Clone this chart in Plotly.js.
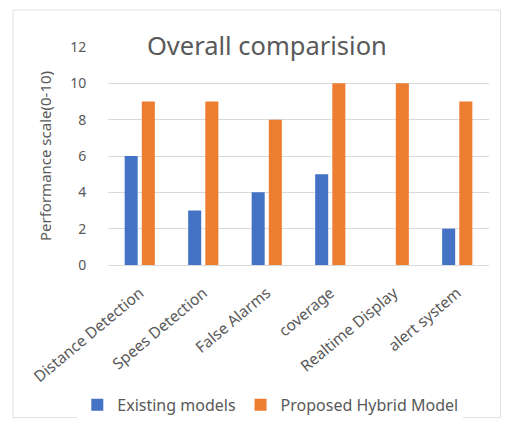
<!DOCTYPE html>
<html><head><meta charset="utf-8">
<script src="https://cdn.plot.ly/plotly-3.0.1.min.js"></script>
<style>html,body{margin:0;padding:0;background:#fff;}</style>
</head><body>
<div id="chart" style="width:510px;height:428px;"></div>
<script>
const categories = ["Distance Detection","Spees Detection","False Alarms","coverage","Realtime Display","alert system"];
const existingModels = [6, 3, 4, 5, 0, 2];
const proposedHybrid = [9, 9, 8, 10, 10, 9];
const yTicks = [0, 2, 4, 6, 8, 10, 12];

const font = {family: "'Noto Sans', 'Open Sans', sans-serif", color: "#595959"};
const data = [
  {type: "bar", name: "Existing models", x: categories, y: existingModels, marker: {color: "#4472C4"}},
  {type: "bar", name: "Proposed Hybrid Model", x: categories, y: proposedHybrid, marker: {color: "#ED7D31"}}
];
const layout = {
  width: 510, height: 428,
  margin: {l: 108, r: 21, t: 47, b: 163},
  paper_bgcolor: "#fff", plot_bgcolor: "#fff",
  font: Object.assign({}, font, {size: 13}),
  barmode: "group", bargap: 0.46, bargroupgap: 0.24,
  title: {text: "Overall comparision", font: Object.assign({}, font, {size: 25.5}),
          xref: "paper", x: 0.417, xanchor: "center", yref: "container", y: 0.893, yanchor: "middle"},
  xaxis: {tickangle: -40, tickfont: Object.assign({}, font, {size: 15.5}), showgrid: false, zeroline: false,
          showline: false, ticks: "outside", ticklen: 12, tickcolor: "rgba(0,0,0,0)"},
  yaxis: {range: [0, 12], tickvals: yTicks, ticktext: yTicks.map(String), gridcolor: "#d9d9d9", gridwidth: 1,
          zeroline: true, zerolinecolor: "#d9d9d9", showline: false,
          ticks: "outside", ticklen: 18, tickcolor: "rgba(0,0,0,0)",
          tickfont: Object.assign({}, font, {size: 14}),
          title: {text: "Performance scale(0-10)", font: Object.assign({}, font, {size: 15}), standoff: 14}},
  legend: {orientation: "h", xref: "container", yref: "container", x: 0.53, xanchor: "center", y: 0.054, yanchor: "middle",
           font: Object.assign({}, font, {size: 16}), itemwidth: 30, traceorder: "normal"},
  shapes: [{type: "rect", xref: "paper", yref: "paper", x0: -0.249, x1: 1.03, y0: -0.70, y1: 1.17,
            line: {color: "#e0e0e0", width: 1}}]
};
Plotly.newPlot("chart", data, layout, {displayModeBar: false, staticPlot: true});
</script>
</body></html>
